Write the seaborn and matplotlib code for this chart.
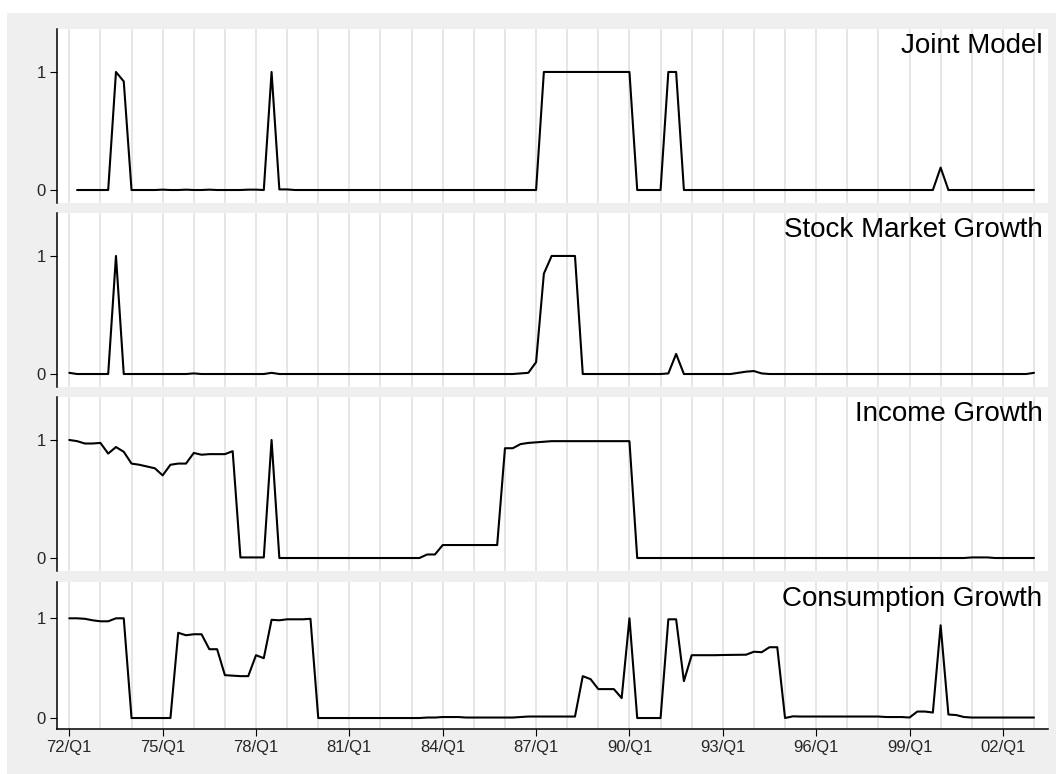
import numpy as np
import pandas as pd
import matplotlib
matplotlib.use("Agg")
import matplotlib.pyplot as plt
from matplotlib.patches import Rectangle
import seaborn as sns

# quarterly index: 0 = 1972Q1 ... 124 = 2003Q1
quarters = np.arange(125)
tick_pos = np.arange(0, 121, 12)
tick_labels = ["72/Q1", "75/Q1", "78/Q1", "81/Q1", "84/Q1", "87/Q1",
               "90/Q1", "93/Q1", "96/Q1", "99/Q1", "02/Q1"]
panel_titles = ["Joint Model", "Stock Market Growth", "Income Growth",
                "Consumption Growth"]

nan = np.nan
joint = [
    nan, 0, 0, 0, 0, 0, 1.0, 0.92, 0, 0, 0, 0,
    0.003, 0, 0, 0.003, 0, 0, 0.003, 0, 0, 0, 0, 0.003,
    0.003, 0, 1.0, 0.005, 0.005, 0, 0, 0, 0, 0, 0, 0,
    0, 0, 0, 0, 0, 0, 0, 0, 0, 0, 0, 0,
    0, 0, 0, 0, 0, 0, 0, 0, 0, 0, 0, 0,
    0, 1, 1, 1, 1, 1, 1, 1, 1, 1, 1, 1,
    1, 0, 0, 0, 0, 1, 1, 0, 0, 0, 0, 0,
    0, 0, 0, 0, 0, 0, 0, 0, 0, 0, 0, 0,
    0, 0, 0, 0, 0, 0, 0, 0, 0, 0, 0, 0,
    0, 0, 0, 0, 0.19, 0, 0, 0, 0, 0, 0, 0,
    0, 0, 0, 0, 0,
]
stock = [
    0.01, 0, 0, 0, 0, 0, 1.0, 0, 0, 0, 0, 0,
    0, 0, 0, 0, 0.005, 0, 0, 0, 0, 0, 0, 0,
    0, 0, 0.01, 0, 0, 0, 0, 0, 0, 0, 0, 0,
    0, 0, 0, 0, 0, 0, 0, 0, 0, 0, 0, 0,
    0, 0, 0, 0, 0, 0, 0, 0, 0, 0, 0.005, 0.01,
    0.1, 0.85, 1.0, 1.0, 1.0, 1.0, 0, 0, 0, 0, 0, 0,
    0, 0, 0, 0, 0, 0.005, 0.17, 0, 0, 0, 0, 0,
    0, 0, 0.01, 0.02, 0.025, 0.005, 0, 0, 0, 0, 0, 0,
    0, 0, 0, 0, 0, 0, 0, 0, 0, 0, 0, 0,
    0, 0, 0, 0, 0, 0, 0, 0, 0, 0, 0, 0,
    0, 0, 0, 0, 0.01,
]
income = [
    1.0, 0.99, 0.97, 0.97, 0.975, 0.885, 0.94, 0.90, 0.80, 0.79, 0.775, 0.76,
    0.70, 0.79, 0.80, 0.80, 0.89, 0.875, 0.88, 0.88, 0.88, 0.905, 0.005, 0.005,
    0.005, 0.005, 1.0, 0, 0, 0, 0, 0, 0, 0, 0, 0,
    0, 0, 0, 0, 0, 0, 0, 0, 0, 0, 0.03, 0.03,
    0.11, 0.11, 0.11, 0.11, 0.11, 0.11, 0.11, 0.11, 0.93, 0.93, 0.965, 0.975,
    0.98, 0.985, 0.99, 0.99, 0.99, 0.99, 0.99, 0.99, 0.99, 0.99, 0.99, 0.99,
    0.99, 0, 0, 0, 0, 0, 0, 0, 0, 0, 0, 0,
    0, 0, 0, 0, 0, 0, 0, 0, 0, 0, 0, 0,
    0, 0, 0, 0, 0, 0, 0, 0, 0, 0, 0, 0,
    0, 0, 0, 0, 0, 0, 0, 0, 0.005, 0.005, 0.005, 0,
    0, 0, 0, 0, 0,
]
consumption = [
    1.0, 1.0, 0.995, 0.98, 0.97, 0.97, 1.0, 1.0, 0, 0, 0, 0,
    0, 0, 0.855, 0.83, 0.84, 0.84, 0.69, 0.69, 0.43, 0.425, 0.42, 0.42,
    0.63, 0.60, 0.985, 0.98, 0.99, 0.99, 0.99, 0.995, 0, 0, 0, 0,
    0, 0, 0, 0, 0, 0, 0, 0, 0, 0, 0.005, 0.005,
    0.01, 0.01, 0.01, 0.005, 0.005, 0.005, 0.005, 0.005, 0.005, 0.005, 0.01, 0.015,
    0.015, 0.015, 0.015, 0.015, 0.015, 0.015, 0.42, 0.39, 0.29, 0.29, 0.29, 0.20,
    1.0, 0, 0, 0, 0, 0.99, 0.99, 0.37, 0.63, 0.63, 0.63, 0.63,
    0.632, 0.633, 0.634, 0.635, 0.665, 0.66, 0.71, 0.71, 0.0, 0.017, 0.015, 0.015,
    0.015, 0.015, 0.015, 0.015, 0.015, 0.015, 0.015, 0.015, 0.015, 0.01, 0.01, 0.01,
    0.005, 0.065, 0.065, 0.055, 0.93, 0.035, 0.03, 0.01, 0.005, 0.005, 0.005, 0.005,
    0.005, 0.005, 0.005, 0.005, 0.005,
]
series = [joint, stock, income, consumption]

sns.set_style("white")
plt.rcParams["font.family"] = ["Liberation Sans", "DejaVu Sans"]

W, H = 1056, 774
fig = plt.figure(figsize=(W / 100, H / 100), dpi=100, facecolor="white")
fig.patches.append(Rectangle((7 / W, 0), 1, 1 - 13 / H, transform=fig.transFigure,
                             facecolor="#efefef", edgecolor="none", zorder=-10))

# panel extents in pixels (top, bottom)
panels = [(29, 203), (213, 387), (397, 571), (582, 729)]
left, right = 57, 1048

for i, (top, bot) in enumerate(panels):
    ax = fig.add_axes([left / W, 1 - bot / H, (right - left) / W, (bot - top) / H])
    ax.set_facecolor("white")
    for q in range(0, 125, 4):
        ax.axvline(q, color="#e6e6e6", lw=1.4, zorder=0)
    df = pd.DataFrame({"q": quarters, "p": series[i]})
    sns.lineplot(data=df, x="q", y="p", color="black", lw=1.5, ax=ax)
    ax.set_xlim(-1.58, 125.8)
    ax.set_ylim(-0.11, 1.364)
    ax.set_yticks([0, 1])
    ax.set_yticklabels(["0", "1"])
    ax.set_xlabel("")
    ax.set_ylabel("")
    for s in ["top", "right"]:
        ax.spines[s].set_visible(False)
    ax.spines["left"].set_color("black")
    ax.spines["left"].set_linewidth(1.1)
    ax.tick_params(axis="y", direction="out", length=5, width=0.8, color="black",
                   labelsize=12, pad=3, left=True)
    if i < 3:
        ax.spines["bottom"].set_visible(False)
        ax.set_xticks([])
    else:
        ax.spines["bottom"].set_color("black")
        ax.spines["bottom"].set_linewidth(1.1)
        ax.set_xticks(tick_pos)
        ax.set_xticklabels(tick_labels)
        ax.tick_params(axis="x", direction="out", length=5, width=0.8, color="black",
                       labelsize=12, pad=3, bottom=True)
    ax.text(0.9945, 0.975, panel_titles[i], transform=ax.transAxes, ha="right",
            va="top", fontsize=20, color="black")

fig.savefig("out.png", dpi=100, facecolor="white")
